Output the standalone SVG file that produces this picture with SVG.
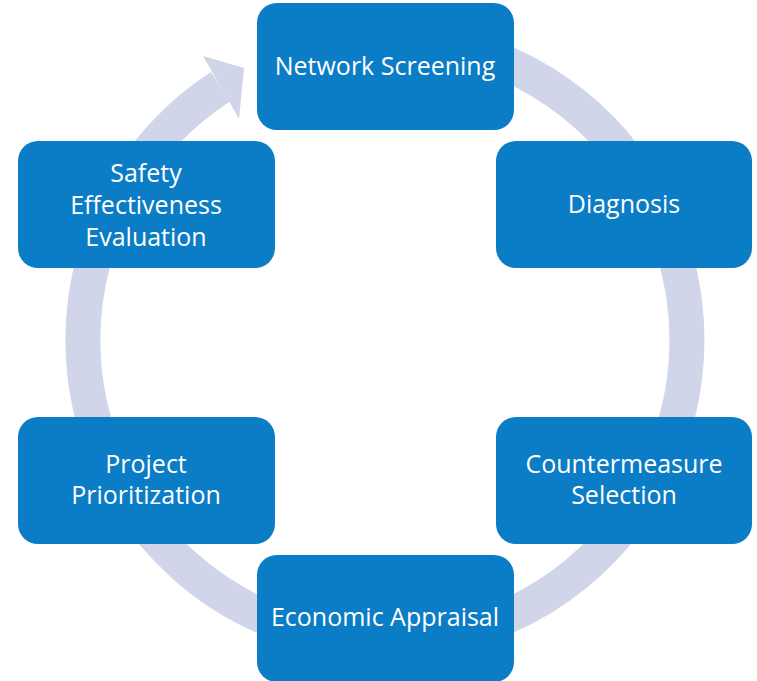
<svg xmlns="http://www.w3.org/2000/svg" width="757" height="681" viewBox="0 0 757 681">
<style>
.box{fill:#0B7CC6;}
.lbl{fill:#FFFFFF;font-family:"Open Sans","Liberation Sans",sans-serif;font-size:25px;text-anchor:middle;}
.ring{fill:none;stroke:#D0D5EA;stroke-width:35;}
</style>
<rect width="757" height="681" fill="#FFFFFF"/>
<g id="connectors">
<path class="ring" d="M 437.4 42.6 A 302 302 0 1 1 220.5 86.7"/>
<polygon points="203,56 244,68 239,119" fill="#D0D5EA"/>
</g>
<g id="network-screening">
<rect class="box" x="257" y="3" width="257" height="127" rx="20"/>
<text class="lbl" x="385" y="75">Network Screening</text>
</g>
<g id="diagnosis">
<rect class="box" x="496" y="141" width="256" height="127" rx="20"/>
<text class="lbl" x="624" y="213">Diagnosis</text>
</g>
<g id="countermeasure-selection">
<rect class="box" x="496" y="417" width="256" height="127" rx="20"/>
<text class="lbl" x="624" y="473">Countermeasure</text>
<text class="lbl" x="624" y="504">Selection</text>
</g>
<g id="economic-appraisal">
<rect class="box" x="257" y="555" width="257" height="127" rx="20"/>
<text class="lbl" x="385" y="626">Economic Appraisal</text>
</g>
<g id="project-prioritization">
<rect class="box" x="18" y="417" width="257" height="127" rx="20"/>
<text class="lbl" x="146" y="473">Project</text>
<text class="lbl" x="146" y="504">Prioritization</text>
</g>
<g id="safety-effectiveness-evaluation">
<rect class="box" x="18" y="141" width="257" height="127" rx="20"/>
<text class="lbl" x="146" y="182">Safety</text>
<text class="lbl" x="146" y="214">Effectiveness</text>
<text class="lbl" x="146" y="246">Evaluation</text>
</g>
</svg>
